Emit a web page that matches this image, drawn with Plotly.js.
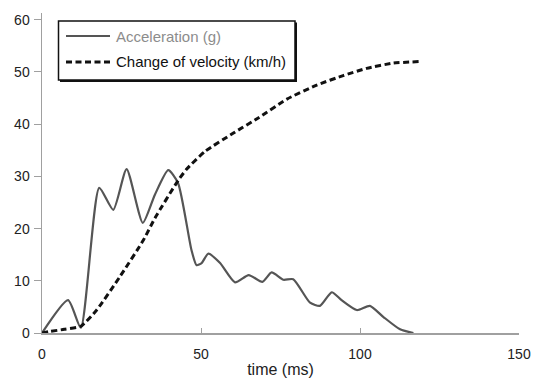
<!DOCTYPE html>
<html>
<head>
<meta charset="utf-8">
<script src="https://cdn.plot.ly/plotly-3.0.1.min.js"></script>
<style>html,body{margin:0;padding:0;background:#fff;}#chart{width:536px;height:382px;}</style>
</head>
<body>
<div id="chart"></div>
<script>
// Acceleration (g) vs time (ms)
const accTime = [0, 8.2, 12.2, 18, 22.4, 26.6, 31.7, 35.5, 39.7, 42.8, 47, 48.6, 50.2, 52.3, 56, 60.7, 65, 69.3, 72.2, 75.9, 79, 84.3, 87.4, 91.1, 94.2, 99, 103.1, 107.3, 112.6, 116.8];
const accValue = [0, 6.3, 1.0, 27.8, 23.6, 31.4, 21.1, 26.5, 31.2, 28.7, 15.9, 13.0, 13.4, 15.2, 13.4, 9.7, 11.1, 9.8, 11.6, 10.2, 10.3, 5.8, 5.2, 7.8, 6.3, 4.4, 5.2, 3.1, 0.7, 0];
// Change of velocity (km/h) vs time (ms)
const velTime = [0, 2.5, 7, 12.2, 17.2, 24.5, 31.9, 35.5, 42.9, 45.5, 51.3, 60.2, 68, 77, 86.4, 94.7, 102.1, 110.5, 118.9];
const velValue = [0, 0.3, 0.7, 1.3, 4.4, 10.8, 17.8, 22, 29.3, 31.4, 34.8, 38.3, 41.2, 44.8, 47.5, 49.3, 50.7, 51.7, 52];
const seriesNames = ['Acceleration (g)', 'Change of velocity (km/h)'];
const xTicks = [0, 50, 100, 150];
const yTicks = [0, 10, 20, 30, 40, 50, 60];

const L = 42, R = 519;
const px = v => (v - L) / (R - L);
const py = v => (333 - v) / (333 - 13);

const accLine = {color: '#555555', width: 2.2};
const velLine = {color: '#111111', width: 3, dash: '6px,3.5px'};

const traces = [
  {x: accTime, y: accValue, mode: 'lines', name: seriesNames[0],
   line: Object.assign({shape: 'spline', smoothing: 0.6}, accLine)},
  {x: velTime, y: velValue, mode: 'lines', name: seriesNames[1],
   line: Object.assign({shape: 'spline', smoothing: 0.5}, velLine)}
];

const fontFam = '"Liberation Sans", Arial, sans-serif';
const layout = {
  width: 536, height: 382,
  margin: {l: 42, r: 17, t: 13, b: 49},
  paper_bgcolor: '#ffffff', plot_bgcolor: '#ffffff',
  font: {family: fontFam, size: 14, color: '#222'},
  showlegend: false,
  xaxis: {range: [0, 150], tickvals: xTicks, showgrid: false, zeroline: false,
    showline: true, linecolor: '#a0a0a0', linewidth: 1.5,
    ticks: 'inside', ticklen: 5, tickcolor: '#a0a0a0', ticklabelstandoff: 8,
    tickfont: {size: 14, color: '#222'},
    title: {text: 'time (ms)', font: {size: 16, color: '#222'}, standoff: 2}},
  yaxis: {range: [0, 61.3], tickvals: yTicks, showgrid: false, zeroline: false,
    showline: true, linecolor: '#a0a0a0', linewidth: 1.5,
    ticks: 'outside', ticklen: 7, tickcolor: '#a0a0a0', ticklabelstandoff: 1,
    tickfont: {size: 14, color: '#222'}},
  shapes: [
    {type: 'rect', xref: 'paper', yref: 'paper', x0: px(60), x1: px(297), y0: py(22.5), y1: py(82),
     fillcolor: '#111', line: {width: 0}, layer: 'above'},
    {type: 'rect', xref: 'paper', yref: 'paper', x0: px(58.5), x1: px(295), y0: py(21), y1: py(80),
     fillcolor: '#ffffff', line: {color: '#111', width: 1.5}, layer: 'above'},
    {type: 'line', xref: 'paper', yref: 'paper', x0: px(66), x1: px(110), y0: py(36), y1: py(36),
     line: accLine, layer: 'above'},
    {type: 'line', xref: 'paper', yref: 'paper', x0: px(66), x1: px(111), y0: py(62), y1: py(62),
     line: velLine, layer: 'above'}
  ],
  annotations: [
    {xref: 'paper', yref: 'paper', x: px(114), y: py(37), xanchor: 'left', yanchor: 'middle', showarrow: false,
     text: seriesNames[0], font: {size: 15, color: '#8c8c8c', family: fontFam}},
    {xref: 'paper', yref: 'paper', x: px(114), y: py(62), xanchor: 'left', yanchor: 'middle', showarrow: false,
     text: seriesNames[1], font: {size: 15, color: '#111', family: fontFam}}
  ]
};

Plotly.newPlot('chart', traces, layout, {displayModeBar: false, staticPlot: true});
</script>
</body>
</html>
